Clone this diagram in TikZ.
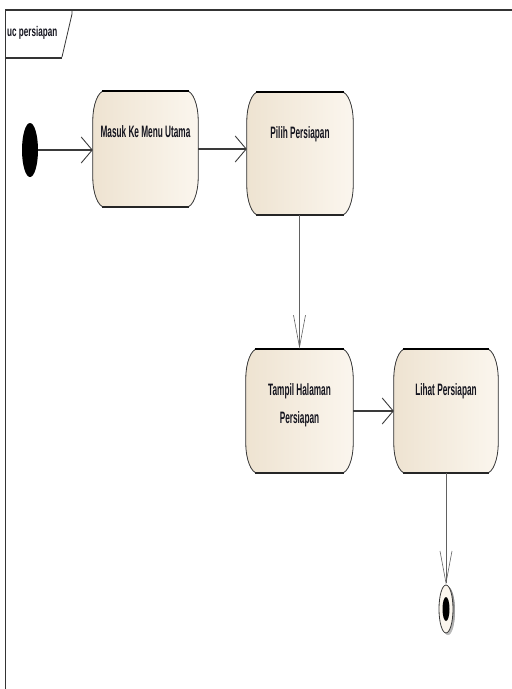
\documentclass[tikz,border=0pt]{standalone}
\usepackage{fontspec}
\setmainfont{Liberation Sans}
\usepackage{graphicx}
\usetikzlibrary{arrows.meta,backgrounds,shapes.geometric}

\definecolor{creamL}{HTML}{EEE3D1}
\definecolor{creamR}{HTML}{FBF6EE}
\definecolor{edge}{HTML}{3A3A3A}
\definecolor{shade}{HTML}{9C9C9C}
\definecolor{ink}{HTML}{14141E}

% condensed text, as the modelling tool renders it
\newcommand{\cond}[1]{\scalebox{0.5}[1]{#1}}

\tikzset{
  act/.style={inner sep=0pt, draw=none},
  actlabel/.style={anchor=north, yshift=-35pt, inner sep=0pt, align=center,
    font=\fontsize{16.5}{28}\selectfont\bfseries, text=ink},
  harrow/.style={-{Straight Barb[length=11pt,width=26pt,line width=0.9pt]},
    line width=1.6pt, draw=edge},
  varrow/.style={-{Straight Barb[length=32pt,width=12pt,line width=0.6pt]},
    line width=0.8pt, draw=edge!80},
  frameline/.style={draw=edge!90!black},
}

% activity outline with elliptical corners
\newcommand{\actpath}[1]{%
  ([xshift=12pt]#1.north west) -- ([xshift=-12pt]#1.north east)
  arc[start angle=90,end angle=0,x radius=12pt,y radius=30pt]
  -- ([yshift=30pt]#1.south east)
  arc[start angle=0,end angle=-90,x radius=12pt,y radius=30pt]
  -- ([xshift=12pt]#1.south west)
  arc[start angle=270,end angle=180,x radius=12pt,y radius=30pt]
  -- ([yshift=-30pt]#1.north west)
  arc[start angle=180,end angle=90,x radius=12pt,y radius=30pt] -- cycle}

\begin{document}
\begin{tikzpicture}[x=1pt,y=-1pt]
  \useasboundingbox (0,0) rectangle (512,689);

  % diagram frame and its name tab
  \draw[frameline, line width=0.8pt] (5,10) -- (5,689);
  \draw[frameline, line width=2.6pt] (5,10) -- (512,10);
  \draw[frameline, line width=0.8pt] (72,10) -- (72,14) -- (62,57);
  \draw[frameline, line width=2.2pt] (5,58) -- (62,58);
  \node[anchor=west, inner sep=0pt, font=\fontsize{14}{16}\selectfont\bfseries,
    text=ink] (title) at (7,33) {\scalebox{0.58}[1]{uc persiapan}};

  % initial node
  \node[ellipse, fill=black, minimum width=16pt, minimum height=54pt, inner sep=0pt]
    (start) at (30,150) {};

  % activities
  \node[act, minimum width=105pt, minimum height=116pt,
    label={[actlabel]north:{\cond{Masuk Ke Menu Utama}}}] (a) at (145.5,149) {};
  \node[act, minimum width=106pt, minimum height=123pt,
    label={[actlabel]north:{\cond{Pilih Persiapan}}}] (b) at (300,153.5) {};
  \node[act, minimum width=107pt, minimum height=124pt,
    label={[actlabel]north:{\cond{Tampil Halaman}\\\cond{Persiapan}}}] (c) at (299.5,411) {};
  \node[act, minimum width=104pt, minimum height=124pt,
    label={[actlabel]north:{\cond{Lihat Persiapan}}}] (d) at (446,411) {};

  % final node
  \node[ellipse, fill=creamR, draw=edge, line width=0.8pt,
    minimum width=14pt, minimum height=48pt, inner sep=0pt] (end) at (446,609) {};
  \fill[black] (end.center) ellipse[x radius=3.5pt, y radius=12pt];

  \begin{pgfonlayer}{background}
    \foreach \n in {a,b,c,d} {
      \fill[shade, opacity=0.35] [xshift=5pt,yshift=-5pt] \actpath{\n};
      \fill[shade, opacity=0.6] [xshift=3.5pt,yshift=-3.5pt] \actpath{\n};
      \shade[left color=creamL, right color=creamR] \actpath{\n};
      \draw[edge, line width=0.8pt] \actpath{\n};
      \draw[black, line width=2.6pt]
        ([xshift=9pt]\n.north west) -- ([xshift=-9pt]\n.north east);
      \draw[black!85, line width=2.4pt]
        ([xshift=9pt]\n.south west) -- ([xshift=-9pt]\n.south east);
    }
    \fill[shade, opacity=0.5] ([xshift=2pt,yshift=-2pt]end.center)
      ellipse[x radius=7pt, y radius=24pt];
  \end{pgfonlayer}

  % control flow
  \draw[harrow] (start.east) -- (start.east -| a.west);
  \draw[harrow] (a.east) -- (a.east -| b.west);
  \draw[varrow] (b.south -| c.north) -- (c.north);
  \draw[harrow] (c.east) -- (c.east -| d.west);
  \draw[varrow] (d.south) -- (end.north);
\end{tikzpicture}
\end{document}
